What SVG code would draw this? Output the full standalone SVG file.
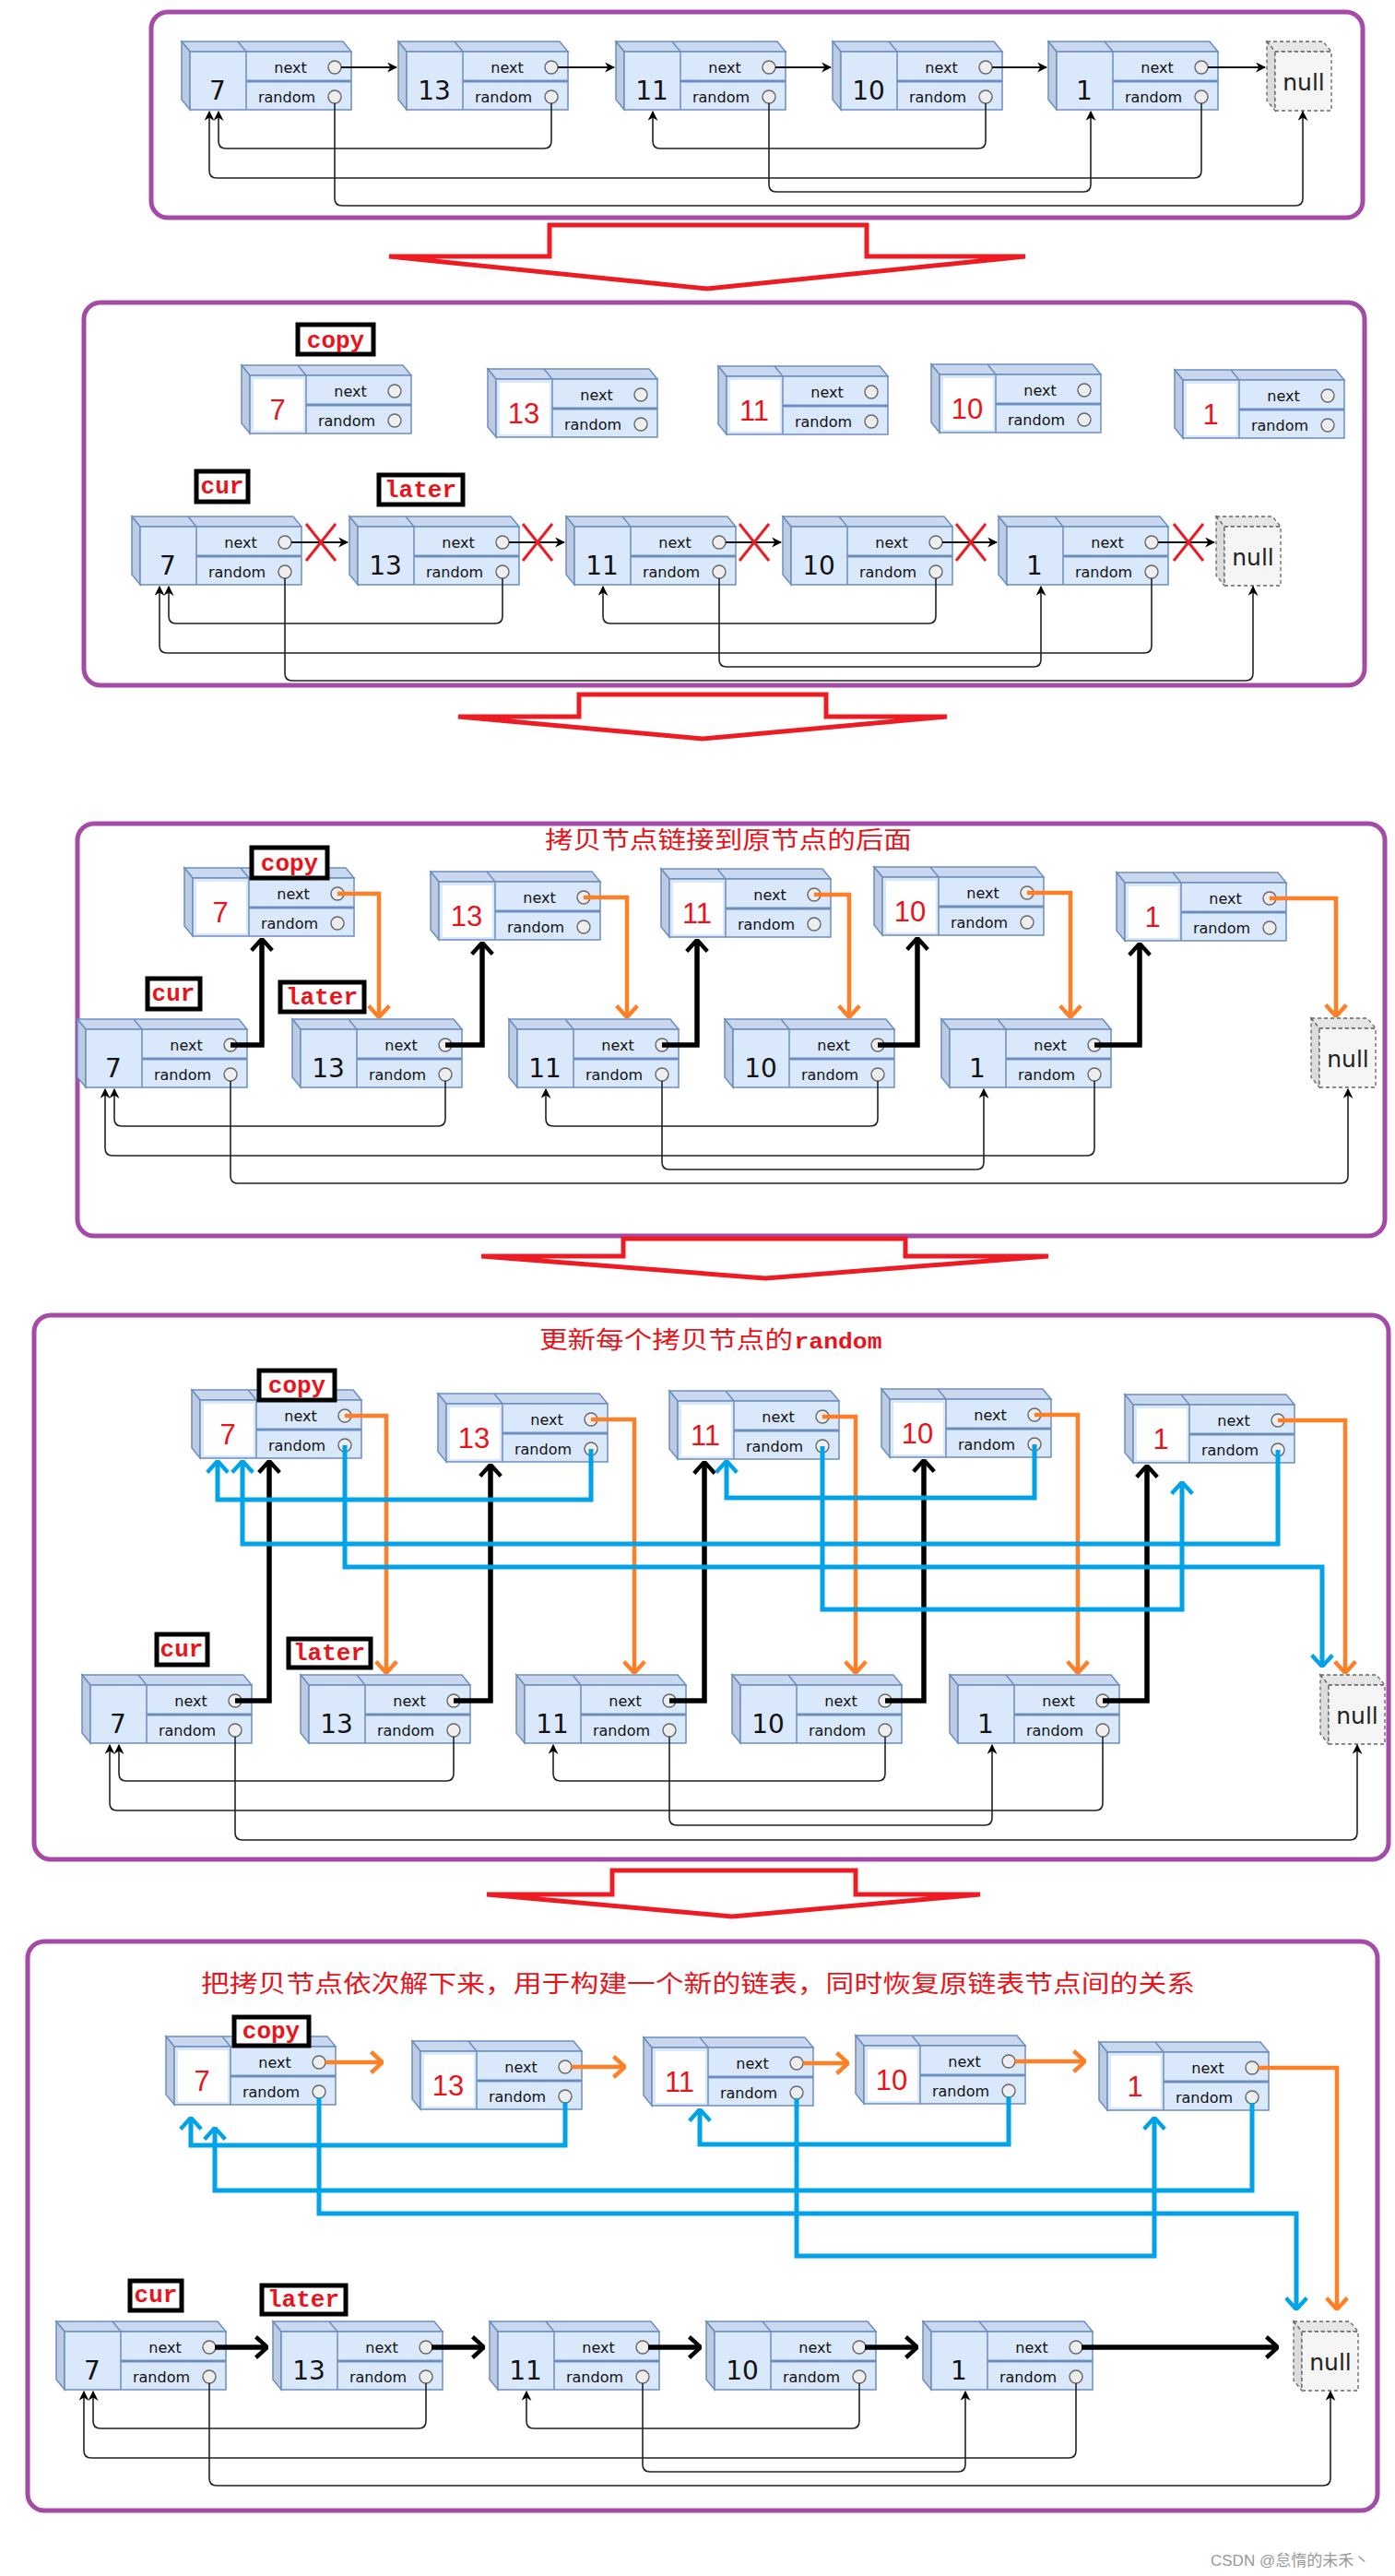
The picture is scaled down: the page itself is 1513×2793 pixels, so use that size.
<svg xmlns="http://www.w3.org/2000/svg" xmlns:xlink="http://www.w3.org/1999/xlink" width="1513" height="2793" viewBox="0 0 1513 2793">
<style>
.panel{fill:none;stroke:#a54aa6;stroke-width:5}
.bigarrow{fill:none;stroke:#ed1c24;stroke-width:5;stroke-linejoin:miter}
.f{font-family:"DejaVu Sans",sans-serif;font-size:16px;fill:#111;text-anchor:middle}
.v{font-family:"DejaVu Sans",sans-serif;font-size:28px;fill:#111;text-anchor:middle}
.cv{font-family:"Liberation Sans",sans-serif;font-size:31px;fill:#e8141c;text-anchor:middle}
.nul{font-family:"DejaVu Sans",sans-serif;font-size:25px;fill:#222;text-anchor:middle}
.lbl{fill:#fff;stroke:#000;stroke-width:5}
.lt{font-family:"Liberation Mono",monospace;font-weight:bold;font-size:26px;fill:#e8141c;text-anchor:middle}
.title{font-family:"Noto Sans CJK SC",sans-serif;font-size:26px;fill:#e8141c}
.rnd{fill:none;stroke:#222;stroke-width:1.6;marker-end:url(#ah)}
.nx{fill:none;stroke:#111;stroke-width:1.8;marker-end:url(#ah)}
.blk{fill:none;stroke:#000;stroke-width:5.5;marker-end:url(#chk)}
.org{fill:none;stroke:#ff7f27;stroke-width:4.5;marker-end:url(#cho)}
.blu{fill:none;stroke:#00a2e8;stroke-width:5;marker-end:url(#chb)}
.xm{stroke:#ed1c24;stroke-width:3}
</style>
<defs>
<marker id="ah" viewBox="0 0 10 10" refX="9" refY="5" markerWidth="11" markerHeight="11" orient="auto" markerUnits="userSpaceOnUse"><path d="M0,0 L10,5 L0,10 L3,5 z" fill="#000"/></marker>
<marker id="chk" viewBox="0 0 12 20" refX="11" refY="10" markerWidth="15" markerHeight="26" orient="auto" markerUnits="userSpaceOnUse"><path d="M1,1 L11,10 L1,19" fill="none" stroke="#000" stroke-width="3.5"/></marker>
<marker id="cho" viewBox="0 0 12 20" refX="11" refY="10" markerWidth="15" markerHeight="26" orient="auto" markerUnits="userSpaceOnUse"><path d="M1,1 L11,10 L1,19" fill="none" stroke="#ff7f27" stroke-width="3.5"/></marker>
<marker id="chb" viewBox="0 0 12 20" refX="11" refY="10" markerWidth="15" markerHeight="26" orient="auto" markerUnits="userSpaceOnUse"><path d="M1,1 L11,10 L1,19" fill="none" stroke="#00a2e8" stroke-width="3.5"/></marker>
<g id="node">
<polygon points="0,0 175,0 184,11 9,11" fill="#c9d8ee" stroke="#6c8ebf" stroke-width="1.5"/>
<line x1="61" y1="0" x2="70" y2="11" stroke="#6c8ebf" stroke-width="1.5"/>
<polygon points="0,0 9,11 9,74 0,63" fill="#bccbe2" stroke="#6c8ebf" stroke-width="1.5"/>
<rect x="9" y="11" width="175" height="63" fill="#dae8fc" stroke="#6c8ebf" stroke-width="1.5"/>
<line x1="70" y1="11" x2="70" y2="74" stroke="#6c8ebf" stroke-width="1.5"/>
<line x1="70" y1="43" x2="184" y2="43" stroke="#6c8ebf" stroke-width="3"/>
<text class="f" x="118" y="34">next</text>
<text class="f" x="114" y="66">random</text>
<circle cx="166" cy="28" r="7" fill="#eee" stroke="#666" stroke-width="1.4"/>
<circle cx="166" cy="60" r="7" fill="#eee" stroke="#666" stroke-width="1.4"/>
</g>
<g id="cnode">
<use href="#node"/>
<rect x="13" y="15" width="54" height="56" fill="#fff"/>
</g>
<g id="nullnode">
<polygon points="0,0 61,0 70,11 9,11" fill="#e6e6e6" stroke="#666" stroke-dasharray="4 3" stroke-width="1.3"/>
<polygon points="0,0 9,11 9,75 0,64" fill="#dcdcdc" stroke="#666" stroke-dasharray="4 3" stroke-width="1.3"/>
<rect x="9" y="11" width="61" height="64" fill="#f5f5f5" stroke="#666" stroke-dasharray="4 3" stroke-width="1.3"/>
<text class="nul" x="40" y="53">null</text>
</g>
</defs>
<rect width="1513" height="2793" fill="#fff"/>

<g id="frames">
<rect class="panel" x="164" y="13" width="1314" height="223" rx="18"/>
<polygon class="bigarrow" points="596,278 596,244 940,244 940,278 1112,278 767,313 422,278"/>
<rect class="panel" x="91" y="328" width="1389" height="415" rx="18"/>
<polygon class="bigarrow" points="628,777 628,753 896,753 896,777 1027,777 762,801 497,777"/>
<rect class="panel" x="84" y="893" width="1418" height="447" rx="18"/>
<polygon class="bigarrow" points="676,1362 676,1343 982,1343 982,1362 1137,1362 830,1386 522,1362"/>
<rect class="panel" x="37" y="1426" width="1469" height="590" rx="18"/>
<polygon class="bigarrow" points="664,2054 664,2028 928,2028 928,2054 1063,2054 794,2078 528,2054"/>
<rect class="panel" x="30" y="2105" width="1464" height="617" rx="18"/>
</g>

<g id="titles">
<text class="title" x="591" y="920" textLength="398" lengthAdjust="spacingAndGlyphs">拷贝节点链接到原节点的后面</text>
<text class="title" x="585" y="1462" textLength="275" lengthAdjust="spacingAndGlyphs">更新每个拷贝节点的</text>
<text class="lt" x="909" y="1462" textLength="95" lengthAdjust="spacingAndGlyphs" style="font-size:24px">random</text>
<text class="title" x="218" y="2160" textLength="1078" lengthAdjust="spacingAndGlyphs">把拷贝节点依次解下来，用于构建一个新的链表，同时恢复原链表节点间的关系</text>
<text x="1313" y="2782" style="font-family:'Liberation Sans','Noto Sans CJK SC',sans-serif;font-size:17px;fill:#999">CSDN @怠惰的未禾丶</text>
</g>

<g id="p1n7"><use href="#node" x="197" y="45"/><text class="v" x="236" y="108">7</text></g>
<g id="p1n13"><use href="#node" x="432" y="45"/><text class="v" x="471" y="108">13</text></g>
<g id="p1n11"><use href="#node" x="668" y="45"/><text class="v" x="707" y="108">11</text></g>
<g id="p1n10"><use href="#node" x="903" y="45"/><text class="v" x="942" y="108">10</text></g>
<g id="p1n1"><use href="#node" x="1137" y="45"/><text class="v" x="1176" y="108">1</text></g>
<g id="p1null"><use href="#nullnode" x="1374" y="45"/></g>

<g id="p2c7"><use href="#cnode" x="262" y="396"/><text class="cv" x="301" y="455">7</text></g>
<g id="p2c13"><use href="#cnode" x="529" y="400"/><text class="cv" x="568" y="459">13</text></g>
<g id="p2c11"><use href="#cnode" x="779" y="397"/><text class="cv" x="818" y="456">11</text></g>
<g id="p2c10"><use href="#cnode" x="1010" y="395"/><text class="cv" x="1049" y="454">10</text></g>
<g id="p2c1"><use href="#cnode" x="1274" y="401"/><text class="cv" x="1313" y="460">1</text></g>
<g id="p2copy"><rect class="lbl" x="323" y="352" width="82" height="32"/><text class="lt" x="364" y="377">copy</text></g>
<g id="p2cur"><rect class="lbl" x="213" y="511" width="56" height="33"/><text class="lt" x="241" y="535">cur</text></g>
<g id="p2later"><rect class="lbl" x="411" y="515" width="91" height="32"/><text class="lt" x="456" y="539">later</text></g>
<g id="p2n7"><use href="#node" x="143" y="560"/><text class="v" x="182" y="623">7</text></g>
<g id="p2n13"><use href="#node" x="379" y="560"/><text class="v" x="418" y="623">13</text></g>
<g id="p2n11"><use href="#node" x="614" y="560"/><text class="v" x="653" y="623">11</text></g>
<g id="p2n10"><use href="#node" x="849" y="560"/><text class="v" x="888" y="623">10</text></g>
<g id="p2n1"><use href="#node" x="1083" y="560"/><text class="v" x="1122" y="623">1</text></g>
<g id="p2null"><use href="#nullnode" x="1319" y="560"/></g>

<g id="p3c7"><use href="#cnode" x="200" y="941"/><text class="cv" x="239" y="1000">7</text></g>
<g id="p3c13"><use href="#cnode" x="467" y="945"/><text class="cv" x="506" y="1004">13</text></g>
<g id="p3c11"><use href="#cnode" x="717" y="942"/><text class="cv" x="756" y="1001">11</text></g>
<g id="p3c10"><use href="#cnode" x="948" y="940"/><text class="cv" x="987" y="999">10</text></g>
<g id="p3c1"><use href="#cnode" x="1211" y="946"/><text class="cv" x="1250" y="1005">1</text></g>
<g id="p3copy"><rect class="lbl" x="273" y="919" width="82" height="33"/><text class="lt" x="314" y="944">copy</text></g>
<g id="p3cur"><rect class="lbl" x="160" y="1061" width="57" height="33"/><text class="lt" x="188" y="1085">cur</text></g>
<g id="p3later"><rect class="lbl" x="304" y="1065" width="91" height="32"/><text class="lt" x="349" y="1089">later</text></g>
<g id="p3n7"><use href="#node" x="84" y="1105"/><text class="v" x="123" y="1168">7</text></g>
<g id="p3n13"><use href="#node" x="317" y="1105"/><text class="v" x="356" y="1168">13</text></g>
<g id="p3n11"><use href="#node" x="552" y="1105"/><text class="v" x="591" y="1168">11</text></g>
<g id="p3n10"><use href="#node" x="786" y="1105"/><text class="v" x="825" y="1168">10</text></g>
<g id="p3n1"><use href="#node" x="1021" y="1105"/><text class="v" x="1060" y="1168">1</text></g>
<g id="p3null"><use href="#nullnode" x="1422" y="1104"/></g>

<g id="p4c7"><use href="#cnode" x="208" y="1507"/><text class="cv" x="247" y="1566">7</text></g>
<g id="p4c13"><use href="#cnode" x="475" y="1511"/><text class="cv" x="514" y="1570">13</text></g>
<g id="p4c11"><use href="#cnode" x="726" y="1508"/><text class="cv" x="765" y="1567">11</text></g>
<g id="p4c10"><use href="#cnode" x="956" y="1506"/><text class="cv" x="995" y="1565">10</text></g>
<g id="p4c1"><use href="#cnode" x="1220" y="1512"/><text class="cv" x="1259" y="1571">1</text></g>
<g id="p4copy"><rect class="lbl" x="281" y="1486" width="82" height="32"/><text class="lt" x="322" y="1510">copy</text></g>
<g id="p4cur"><rect class="lbl" x="170" y="1772" width="55" height="33"/><text class="lt" x="197" y="1796">cur</text></g>
<g id="p4later"><rect class="lbl" x="313" y="1777" width="89" height="31"/><text class="lt" x="357" y="1800">later</text></g>
<g id="p4n7"><use href="#node" x="89" y="1816"/><text class="v" x="128" y="1879">7</text></g>
<g id="p4n13"><use href="#node" x="326" y="1816"/><text class="v" x="365" y="1879">13</text></g>
<g id="p4n11"><use href="#node" x="560" y="1816"/><text class="v" x="599" y="1879">11</text></g>
<g id="p4n10"><use href="#node" x="794" y="1816"/><text class="v" x="833" y="1879">10</text></g>
<g id="p4n1"><use href="#node" x="1030" y="1816"/><text class="v" x="1069" y="1879">1</text></g>
<g id="p4null"><use href="#nullnode" x="1432" y="1816"/></g>

<g id="p5c7"><use href="#cnode" x="180" y="2208"/><text class="cv" x="219" y="2267">7</text></g>
<g id="p5c13"><use href="#cnode" x="447" y="2213"/><text class="cv" x="486" y="2272">13</text></g>
<g id="p5c11"><use href="#cnode" x="698" y="2209"/><text class="cv" x="737" y="2268">11</text></g>
<g id="p5c10"><use href="#cnode" x="928" y="2207"/><text class="cv" x="967" y="2266">10</text></g>
<g id="p5c1"><use href="#cnode" x="1192" y="2214"/><text class="cv" x="1231" y="2273">1</text></g>
<g id="p5copy"><rect class="lbl" x="254" y="2187" width="81" height="31"/><text class="lt" x="294" y="2210">copy</text></g>
<g id="p5cur"><rect class="lbl" x="141" y="2473" width="56" height="32"/><text class="lt" x="169" y="2496">cur</text></g>
<g id="p5later"><rect class="lbl" x="284" y="2478" width="91" height="31"/><text class="lt" x="329" y="2501">later</text></g>
<g id="p5n7"><use href="#node" x="61" y="2517"/><text class="v" x="100" y="2580">7</text></g>
<g id="p5n13"><use href="#node" x="296" y="2517"/><text class="v" x="335" y="2580">13</text></g>
<g id="p5n11"><use href="#node" x="531" y="2517"/><text class="v" x="570" y="2580">11</text></g>
<g id="p5n10"><use href="#node" x="766" y="2517"/><text class="v" x="805" y="2580">10</text></g>
<g id="p5n1"><use href="#node" x="1001" y="2517"/><text class="v" x="1040" y="2580">1</text></g>
<g id="p5null"><use href="#nullnode" x="1403" y="2517"/></g>

<g id="connectors">
<path class="nx" d="M370 73 H430"/><path class="nx" d="M605 73 H666"/><path class="nx" d="M841 73 H901"/><path class="nx" d="M1076 73 H1135"/><path class="nx" d="M1310 73 H1372"/>
<path class="rnd" d="M363 112 V215 Q363 223 371 223 H1405 Q1413 223 1413 215 V121"/>
<path class="rnd" d="M598 112 V153 Q598 161 590 161 H245 Q237 161 237 153 V121"/>
<path class="rnd" d="M834 112 V200 Q834 208 842 208 H1175 Q1183 208 1183 200 V121"/>
<path class="rnd" d="M1069 112 V153 Q1069 161 1061 161 H716 Q708 161 708 153 V121"/>
<path class="rnd" d="M1303 112 V185 Q1303 193 1295 193 H235 Q227 193 227 185 V121"/>
<path class="nx" d="M316 588 H377"/><path class="nx" d="M552 588 H612"/><path class="nx" d="M787 588 H847"/><path class="nx" d="M1022 588 H1081"/><path class="nx" d="M1256 588 H1317"/>
<path class="rnd" d="M309 627 V730 Q309 738 317 738 H1351 Q1359 738 1359 730 V636"/>
<path class="rnd" d="M545 627 V668 Q545 676 537 676 H191 Q183 676 183 668 V636"/>
<path class="rnd" d="M780 627 V715 Q780 723 788 723 H1121 Q1129 723 1129 715 V636"/>
<path class="rnd" d="M1015 627 V668 Q1015 676 1007 676 H662 Q654 676 654 668 V636"/>
<path class="rnd" d="M1249 627 V700 Q1249 708 1241 708 H181 Q173 708 173 700 V636"/>
<g class="xm">
<line x1="332" y1="568" x2="364" y2="608"/><line x1="364" y1="568" x2="332" y2="608"/>
<line x1="567" y1="568" x2="599" y2="608"/><line x1="599" y1="568" x2="567" y2="608"/>
<line x1="802" y1="568" x2="834" y2="608"/><line x1="834" y1="568" x2="802" y2="608"/>
<line x1="1037" y1="568" x2="1069" y2="608"/><line x1="1069" y1="568" x2="1037" y2="608"/>
<line x1="1273" y1="568" x2="1305" y2="608"/><line x1="1305" y1="568" x2="1273" y2="608"/>
</g>
<path class="rnd" d="M250 1172 V1275 Q250 1283 258 1283 H1454 Q1462 1283 1462 1275 V1181"/>
<path class="rnd" d="M483 1172 V1213 Q483 1221 475 1221 H132 Q124 1221 124 1213 V1181"/>
<path class="rnd" d="M718 1172 V1260 Q718 1268 726 1268 H1059 Q1067 1268 1067 1260 V1181"/>
<path class="rnd" d="M952 1172 V1213 Q952 1221 944 1221 H600 Q592 1221 592 1213 V1181"/>
<path class="rnd" d="M1187 1172 V1245 Q1187 1253 1179 1253 H122 Q114 1253 114 1245 V1181"/>
<path class="blk" d="M250 1133 H284 V1018"/>
<path class="blk" d="M483 1133 H523 V1022"/>
<path class="blk" d="M718 1133 H756 V1019"/>
<path class="blk" d="M952 1133 H995 V1017"/>
<path class="blk" d="M1187 1133 H1236 V1023"/>
<path class="org" d="M366 969 H411 V1103"/>
<path class="org" d="M633 973 H680 V1103"/>
<path class="org" d="M883 970 H921 V1103"/>
<path class="org" d="M1114 968 H1161 V1103"/>
<path class="org" d="M1377 974 H1449 V1102"/>
<path class="rnd" d="M255 1883 V1987 Q255 1995 263 1995 H1464 Q1472 1995 1472 1987 V1892"/>
<path class="rnd" d="M492 1883 V1923 Q492 1931 484 1931 H137 Q129 1931 129 1923 V1892"/>
<path class="rnd" d="M726 1883 V1971 Q726 1979 734 1979 H1068 Q1076 1979 1076 1971 V1892"/>
<path class="rnd" d="M960 1883 V1923 Q960 1931 952 1931 H608 Q600 1931 600 1923 V1892"/>
<path class="rnd" d="M1196 1883 V1955 Q1196 1963 1188 1963 H127 Q119 1963 119 1955 V1892"/>
<path class="blk" d="M255 1844 H292 V1584"/>
<path class="blk" d="M492 1844 H532 V1588"/>
<path class="blk" d="M726 1844 H764 V1585"/>
<path class="blk" d="M960 1844 H1002 V1583"/>
<path class="blk" d="M1196 1844 H1244 V1589"/>
<path class="org" d="M374 1535 H419 V1814"/>
<path class="org" d="M641 1539 H688 V1814"/>
<path class="org" d="M892 1536 H928 V1814"/>
<path class="org" d="M1122 1534 H1169 V1814"/>
<path class="org" d="M1386 1540 H1459 V1814"/>
<path class="blu" d="M641 1571 V1626 H236 V1584"/>
<path class="blu" d="M1386 1572 V1674 H263 V1584"/>
<path class="blu" d="M374 1567 V1699 H1434 V1807"/>
<path class="blu" d="M1122 1566 V1624 H788 V1584"/>
<path class="blu" d="M892 1568 V1745 H1282 V1607"/>
<path class="rnd" d="M227 2584 V2687 Q227 2695 235 2695 H1435 Q1443 2695 1443 2687 V2593"/>
<path class="rnd" d="M462 2584 V2625 Q462 2633 454 2633 H109 Q101 2633 101 2625 V2593"/>
<path class="rnd" d="M697 2584 V2672 Q697 2680 705 2680 H1039 Q1047 2680 1047 2672 V2593"/>
<path class="rnd" d="M932 2584 V2625 Q932 2633 924 2633 H579 Q571 2633 571 2625 V2593"/>
<path class="rnd" d="M1167 2584 V2657 Q1167 2665 1159 2665 H99 Q91 2665 91 2657 V2593"/>
<path class="blk" d="M233 2545 H290"/>
<path class="blk" d="M468 2545 H525"/>
<path class="blk" d="M703 2545 H760"/>
<path class="blk" d="M938 2545 H995"/>
<path class="blk" d="M1173 2545 H1386"/>
<path class="org" d="M353 2236 H415"/>
<path class="org" d="M620 2241 H678"/>
<path class="org" d="M871 2237 H920"/>
<path class="org" d="M1101 2235 H1177"/>
<path class="org" d="M1365 2242 H1450 V2504"/>
<path class="blu" d="M613 2279 V2326 H207 V2296"/>
<path class="blu" d="M1358 2280 V2375 H233 V2307"/>
<path class="blu" d="M346 2274 V2400 H1406 V2504"/>
<path class="blu" d="M1094 2273 V2325 H759 V2287"/>
<path class="blu" d="M864 2275 V2446 H1252 V2296"/>
</g>
</svg>
